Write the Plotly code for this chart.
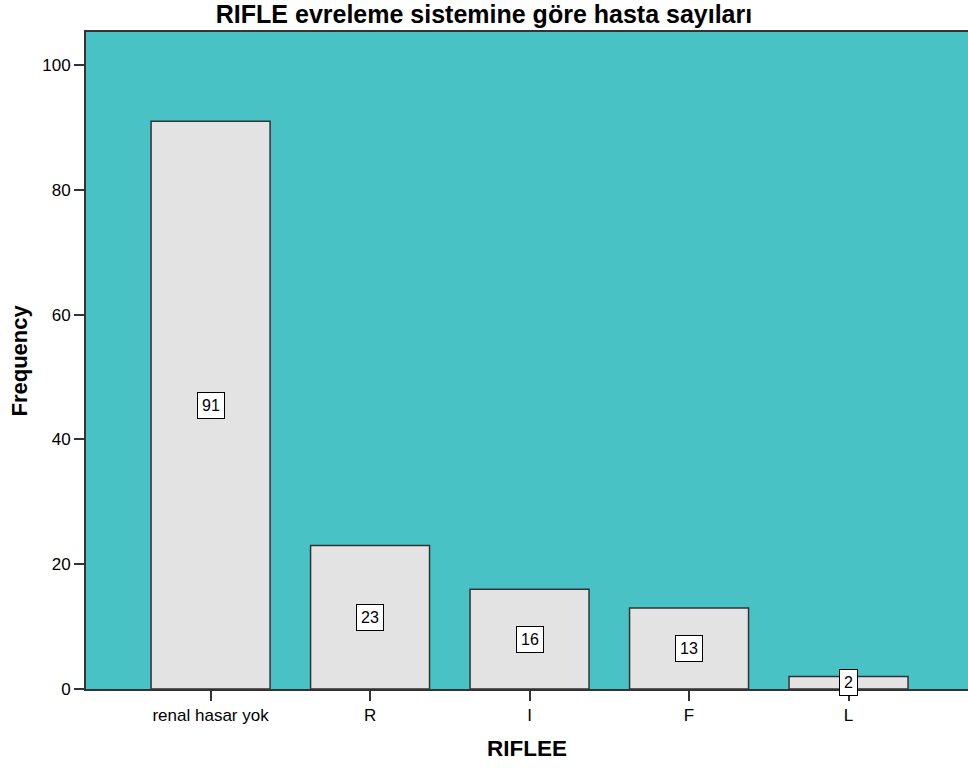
import plotly.graph_objects as go

# RIFLE stage counts
categories = ["renal hasar yok", "R", "I", "F", "L"]
counts = [91, 23, 16, 13, 2]
y_ticks = [0, 20, 40, 60, 80, 100]

TEAL = "#48C2C5"
BAR_FILL = "#E3E3E3"
EDGE = "#333333"
FONT = "Liberation Sans, Arial, sans-serif"

x_pos = list(range(len(categories)))

fig = go.Figure()
fig.add_trace(go.Bar(
    x=x_pos,
    y=counts,
    width=0.746,
    marker=dict(color=BAR_FILL, line=dict(color=EDGE, width=1.5)),
    hoverinfo="skip",
))

# boxed count labels at half the bar height
for xi, v in zip(x_pos, counts):
    fig.add_annotation(
        x=xi, y=v / 2, xref="x", yref="y",
        text=str(v), showarrow=False,
        font=dict(family=FONT, size=16, color="black"),
        bgcolor="white", bordercolor="black", borderwidth=1, borderpad=4,
    )

# axis titles
fig.add_annotation(
    x=0.5, y=0, xref="paper", yref="paper", yshift=-59,
    xanchor="center", yanchor="middle",
    text="RIFLEE", showarrow=False,
    font=dict(family=FONT, size=22.5, color="black", weight="bold"),
)
fig.add_annotation(
    x=0, y=0.5, xref="paper", yref="paper", xshift=-67,
    xanchor="center", yanchor="middle", textangle=-90,
    text="Frequency", showarrow=False,
    font=dict(family=FONT, size=22, color="black", weight="bold"),
)

fig.update_layout(
    width=968, height=769,
    margin=dict(l=86, r=0, t=32, b=80),
    paper_bgcolor="white",
    plot_bgcolor=TEAL,
    showlegend=False,
    title=dict(
        text="RIFLE evreleme sistemine göre hasta sayıları",
        x=0.5, xref="container", xanchor="center",
        y=1 - 14 / 769, yref="container", yanchor="middle",
        font=dict(family=FONT, size=25, color="black", weight="bold"),
    ),
    xaxis=dict(
        range=[-0.781, 4.749],
        tickmode="array", tickvals=x_pos, ticktext=categories,
        ticks="outside", ticklen=10, tickwidth=1.5, tickcolor=EDGE,
        showline=True, linecolor=EDGE, linewidth=2, mirror=True,
        showgrid=False, zeroline=False,
        tickfont=dict(family=FONT, size=17, color="black"),
    ),
    yaxis=dict(
        range=[0, 105.3],
        tickmode="array", tickvals=y_ticks,
        ticks="outside", ticklen=10, tickwidth=1.5, tickcolor=EDGE,
        showline=True, linecolor=EDGE, linewidth=2,
        showgrid=False, zeroline=False,
        ticklabelstandoff=0,
        tickfont=dict(family=FONT, size=17, color="black"),
    ),
)

fig.write_html("out.html")
